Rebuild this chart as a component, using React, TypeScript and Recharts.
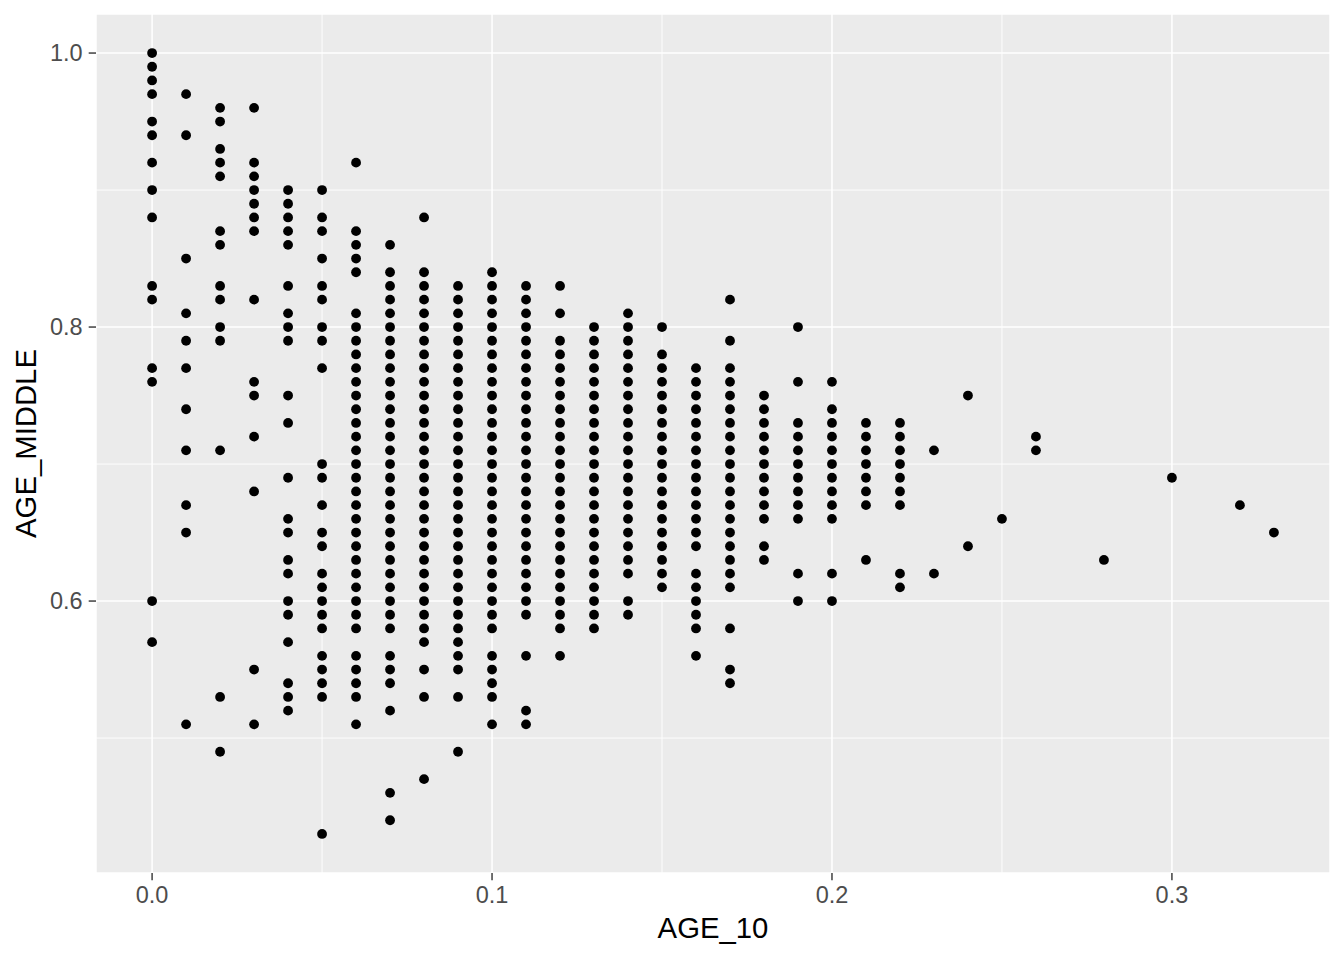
import React from 'react';
import { ScatterChart, Scatter, XAxis, YAxis, CartesianGrid, ReferenceLine } from 'recharts';

// AGE_MIDDLE values (in hundredths) for each AGE_10 column
const c000 = [100, 99, 98, 97, 95, 94, 92, 90, 88, 83, 82, 77, 76, 60, 57];
const c001 = [97, 94, 85, 81, 79, 77, 74, 71, 67, 65, 51];
const c002 = [96, 95, 93, 92, 91, 87, 86, 83, 82, 80, 79, 71, 53, 49];
const c003 = [96, 92, 91, 90, 89, 88, 87, 82, 76, 75, 72, 68, 55, 51];
const c004 = [90, 89, 88, 87, 86, 83, 81, 80, 79, 75, 73, 69, 66, 65, 63, 62, 60, 59, 57, 54, 53, 52];
const c005 = [90, 88, 87, 85, 83, 82, 80, 79, 77, 70, 69, 67, 65, 64, 62, 61, 60, 59, 58, 56, 55, 54, 53, 43];
const c006 = [92, 87, 86, 85, 84, 81, 80, 79, 78, 77, 76, 75, 74, 73, 72, 71, 70, 69, 68, 67, 66, 65, 64, 63, 62, 61, 60, 59, 58, 56, 55, 54, 53, 51];
const c007 = [86, 84, 83, 82, 81, 80, 79, 78, 77, 76, 75, 74, 73, 72, 71, 70, 69, 68, 67, 66, 65, 64, 63, 62, 61, 60, 59, 58, 56, 55, 54, 52, 46, 44];
const c008 = [88, 84, 83, 82, 81, 80, 79, 78, 77, 76, 75, 74, 73, 72, 71, 70, 69, 68, 67, 66, 65, 64, 63, 62, 61, 60, 59, 58, 57, 55, 53, 47];
const c009 = [83, 82, 81, 80, 79, 78, 77, 76, 75, 74, 73, 72, 71, 70, 69, 68, 67, 66, 65, 64, 63, 62, 61, 60, 59, 58, 57, 56, 55, 53, 49];
const c010 = [84, 83, 82, 81, 80, 79, 78, 77, 76, 75, 74, 73, 72, 71, 70, 69, 68, 67, 66, 65, 64, 63, 62, 61, 60, 59, 58, 56, 55, 54, 53, 51];
const c011 = [83, 82, 81, 80, 79, 78, 77, 76, 75, 74, 73, 72, 71, 70, 69, 68, 67, 66, 65, 64, 63, 62, 61, 60, 59, 56, 52, 51];
const c012 = [83, 81, 79, 78, 77, 76, 75, 74, 73, 72, 71, 70, 69, 68, 67, 66, 65, 64, 63, 62, 61, 60, 59, 58, 56];
const c013 = [80, 79, 78, 77, 76, 75, 74, 73, 72, 71, 70, 69, 68, 67, 66, 65, 64, 63, 62, 61, 60, 59, 58];
const c014 = [81, 80, 79, 78, 77, 76, 75, 74, 73, 72, 71, 70, 69, 68, 67, 66, 65, 64, 63, 62, 60, 59];
const c015 = [80, 78, 77, 76, 75, 74, 73, 72, 71, 70, 69, 68, 67, 66, 65, 64, 63, 62, 61];
const c016 = [77, 76, 75, 74, 73, 72, 71, 70, 69, 68, 67, 66, 65, 64, 62, 61, 60, 59, 58, 56];
const c017 = [82, 79, 77, 76, 75, 74, 73, 72, 71, 70, 69, 68, 67, 66, 65, 64, 63, 62, 61, 58, 55, 54];
const c018 = [75, 74, 73, 72, 71, 70, 69, 68, 67, 66, 64, 63];
const c019 = [80, 76, 73, 72, 71, 70, 69, 68, 67, 66, 62, 60];
const c020 = [76, 74, 73, 72, 71, 70, 69, 68, 67, 66, 62, 60];
const c021 = [73, 72, 71, 70, 69, 68, 67, 63];
const c022 = [73, 72, 71, 70, 69, 68, 67, 62, 61];
const c023 = [71, 62];
const c024 = [75, 64];
const c025 = [66];
const c026 = [72, 71];
const c028 = [63];
const c030 = [69];
const c032 = [67];
const c033 = [65];

const columnX = [0.0, 0.01, 0.02, 0.03, 0.04, 0.05, 0.06, 0.07, 0.08, 0.09, 0.1, 0.11, 0.12, 0.13, 0.14, 0.15, 0.16, 0.17, 0.18, 0.19, 0.2, 0.21, 0.22, 0.23, 0.24, 0.25, 0.26, 0.28, 0.3, 0.32, 0.33];
const columnY = [c000, c001, c002, c003, c004, c005, c006, c007, c008, c009, c010, c011, c012, c013, c014, c015, c016, c017, c018, c019, c020, c021, c022, c023, c024, c025, c026, c028, c030, c032, c033];

const xTicks = [0, 0.1, 0.2, 0.3];
const xMinor = [0.05, 0.15, 0.25];
const yTicks = [0.6, 0.8, 1.0];
const yMinor = [0.5, 0.7, 0.9];
const xDomain = [-0.0165, 0.3465];
const yDomain = [0.4015, 1.0285];

const points = columnX.flatMap((x, i) => columnY[i].map((v) => ({ x, y: v / 100 })));

const FONT = '"Liberation Sans", Arial, Helvetica, sans-serif';

const Dot = (props: any) => {
  const { cx, cy } = props;
  if (cx == null || cy == null) return null;
  return <circle cx={cx} cy={cy} r={4.9} fill="#000000" />;
};

const XTitle = (props: any) => {
  const vb = props.viewBox || {};
  return (
    <text x={vb.x + vb.width / 2} y={vb.y + 65} textAnchor="middle" fill="#000000" fontSize={29.3} fontFamily={FONT}>
      AGE_10
    </text>
  );
};

const YTitle = (props: any) => {
  const vb = props.viewBox || {};
  const cx = vb.x + 36;
  const cy = vb.y + vb.height / 2;
  return (
    <text x={cx} y={cy} transform={`rotate(-90 ${cx} ${cy})`} textAnchor="middle" fill="#000000" fontSize={29.3} fontFamily={FONT}>
      AGE_MIDDLE
    </text>
  );
};

export default function App() {
  return (
    <div style={{ position: 'absolute', left: 0, top: 0, width: 1344, height: 960, background: '#ffffff' }}>
      <ScatterChart width={1344} height={960} margin={{ top: 14, right: 14, bottom: 0, left: 0 }}>
        <CartesianGrid fill="#EBEBEB" stroke="#FFFFFF" strokeWidth={1.5} />
        {xMinor.map((v) => (
          <ReferenceLine key={`xm${v}`} x={v} stroke="#FFFFFF" strokeWidth={0.9} ifOverflow="hidden" />
        ))}
        {yMinor.map((v) => (
          <ReferenceLine key={`ym${v}`} y={v} stroke="#FFFFFF" strokeWidth={0.9} ifOverflow="hidden" />
        ))}
        <XAxis
          type="number"
          dataKey="x"
          domain={xDomain}
          allowDataOverflow
          ticks={xTicks}
          interval={0}
          tickFormatter={(v: number) => v.toFixed(1)}
          height={87}
          axisLine={false}
          tickSize={7.3}
          tickMargin={6}
          tickLine={{ stroke: '#333333', strokeWidth: 1.4 }}
          tick={{ fill: '#4D4D4D', fontSize: 23.5, fontFamily: FONT }}
          label={<XTitle />}
        />
        <YAxis
          type="number"
          dataKey="y"
          domain={yDomain}
          allowDataOverflow
          ticks={yTicks}
          interval={0}
          tickFormatter={(v: number) => v.toFixed(1)}
          width={96}
          axisLine={false}
          tickSize={7.3}
          tickMargin={6}
          tickLine={{ stroke: '#333333', strokeWidth: 1.4 }}
          tick={{ fill: '#4D4D4D', fontSize: 23.5, fontFamily: FONT }}
          label={<YTitle />}
        />
        <Scatter data={points} shape={<Dot />} isAnimationActive={false} />
      </ScatterChart>
    </div>
  );
}
